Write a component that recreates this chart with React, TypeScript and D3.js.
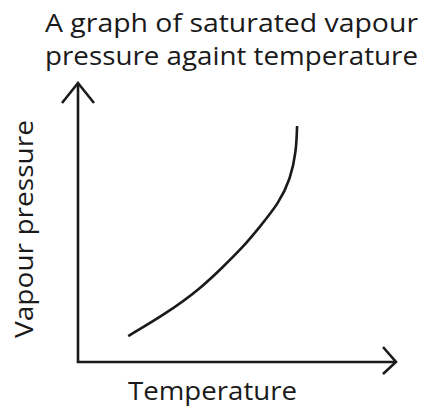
import React from "react";
import * as d3 from "d3";

const titleLines = ["A graph of saturated vapour", "pressure againt temperature"];
const xLabel = "Temperature";
const yLabel = "Vapour pressure";
const temperature = [15.8, 27.9, 38.4, 45.7, 52.0, 57.2, 63.2, 66.8, 68.6, 68.9];
const pressure = [9.3, 17.5, 26.2, 34.2, 41.3, 48.5, 57.0, 65.6, 75.2, 84.6];

const W = 425;
const H = 408;
const INK = "#1a1a1a";
const FONT = "'Open Sans', sans-serif";

export default function App() {
  const x = d3.scaleLinear().domain([0, 100]).range([78, 396]);
  const y = d3.scaleLinear().domain([0, 100]).range([362, 83]);
  const pts: [number, number][] = temperature.map((t, i) => [x(t), y(pressure[i])]);
  const line = d3.line().curve(d3.curveBasis);
  const x0 = x(0), y0 = y(0), xEnd = x(100), yEnd = y(100);
  return (
    <svg
      width={W}
      height={H}
      style={{ position: "absolute", left: 0, top: 0, background: "#fff" }}
    >
      <text x={45} y={32} fontFamily={FONT} fontSize={26} fill={INK} textLength={373} lengthAdjust="spacingAndGlyphs">
        {titleLines[0]}
      </text>
      <text x={45} y={65} fontFamily={FONT} fontSize={26} fill={INK} textLength={373} lengthAdjust="spacingAndGlyphs">
        {titleLines[1]}
      </text>
      <path
        d={`M${x0},${yEnd} L${x0},${y0} L${xEnd},${y0}`}
        fill="none"
        stroke={INK}
        strokeWidth={2.6}
      />
      <path
        d={`M${x0 - 16},${yEnd + 20} L${x0},${yEnd} L${x0 + 16},${yEnd + 20}`}
        fill="none"
        stroke={INK}
        strokeWidth={2.6}
      />
      <path
        d={`M${xEnd - 13},${y0 - 15} L${xEnd},${y0} L${xEnd - 13},${y0 + 12}`}
        fill="none"
        stroke={INK}
        strokeWidth={2.6}
      />
      <path d={line(pts) || ""} fill="none" stroke={INK} strokeWidth={2.6} />
      <text x={128} y={400} fontFamily={FONT} fontSize={26} fill={INK} textLength={169} lengthAdjust="spacingAndGlyphs">
        {xLabel}
      </text>
      <text
        transform={`translate(33,338) rotate(-90)`}
        fontFamily={FONT}
        fontSize={26}
        fill={INK}
        textLength={218}
        lengthAdjust="spacingAndGlyphs"
      >
        {yLabel}
      </text>
    </svg>
  );
}
